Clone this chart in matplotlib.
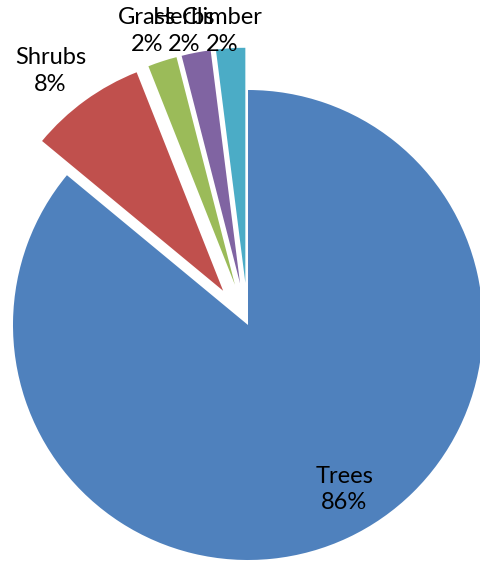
import matplotlib.pyplot as plt

categories = ["Trees", "Shrubs", "Grass", "Herbs", "Climber"]
values = [86, 8, 2, 2, 2]
colors = ["#4F81BD", "#C0504D", "#9BBB59", "#8064A2", "#4BACC6"]
explode = [0, 0.18, 0.18, 0.18, 0.18]

# label centres (axes data coords, radius = 1)
label_pos = [(0.41, -0.70), (-0.84, 1.08), (-0.43, 1.25), (-0.27, 1.25), (-0.11, 1.25)]

plt.rcParams['font.family'] = ['Lato', 'DejaVu Sans']

fig = plt.figure(figsize=(4.8, 5.75), dpi=100)
cx, cy, r = 248, 325, 235
ax = fig.add_axes([(cx - r) / 480, (575 - cy - r) / 575, 2 * r / 480, 2 * r / 575])

ax.pie(values, colors=colors, explode=explode, startangle=90, counterclock=False,
       wedgeprops=dict(linewidth=0))
ax.set_xlim(-1, 1)
ax.set_ylim(-1, 1)
ax.set_aspect("equal")
ax.axis("off")

for name, v, (x, y) in zip(categories, values, label_pos):
    ax.text(x, y, f"{name}\n{v}%", ha="center", va="center", fontsize=17,
            linespacing=1.35, clip_on=False)

fig.savefig("out.png", dpi=100)
